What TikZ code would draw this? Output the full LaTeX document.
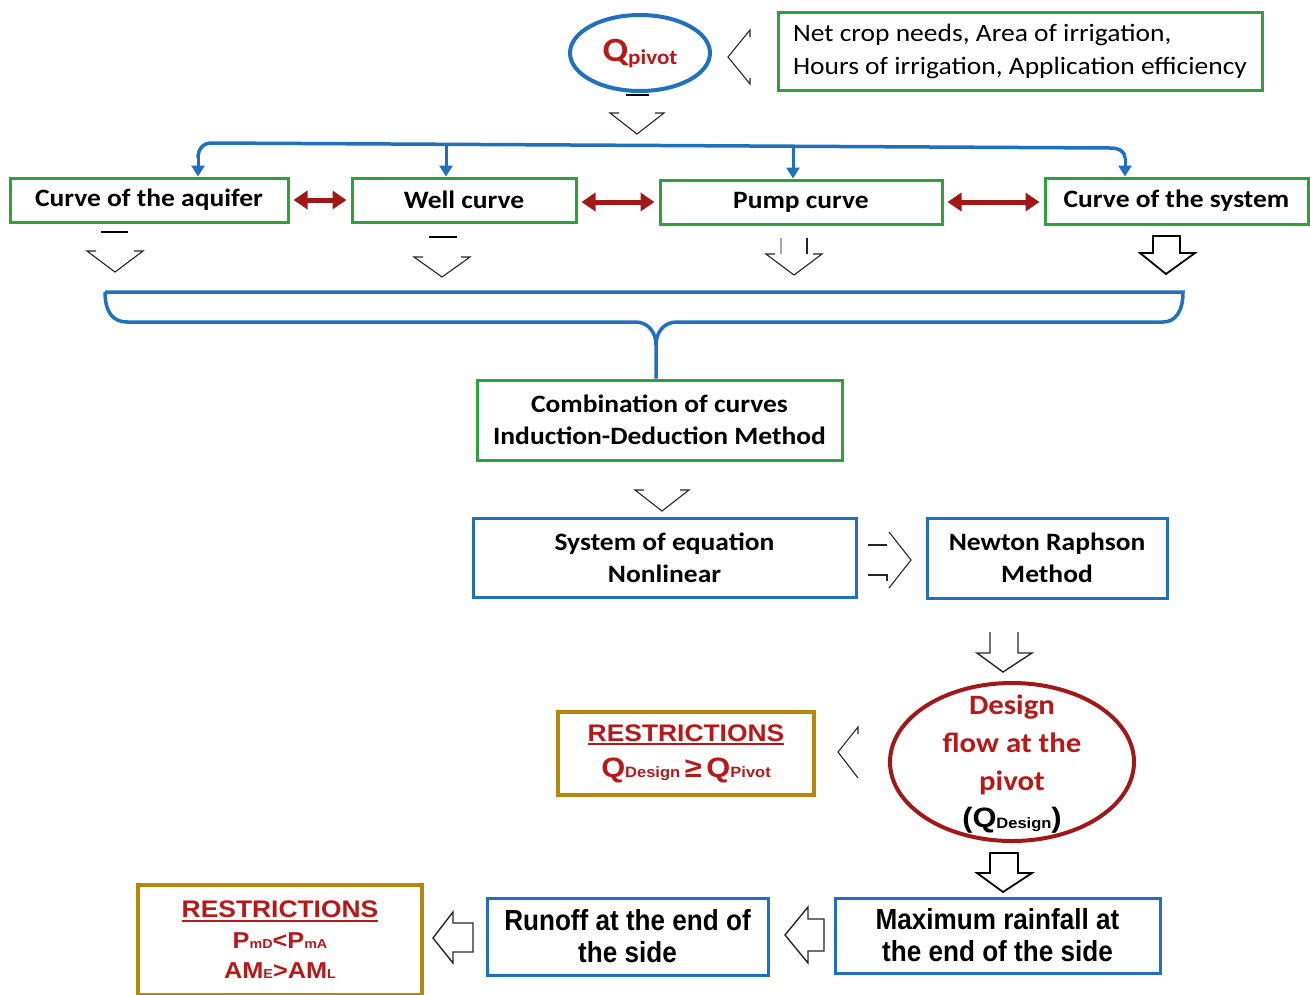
\documentclass[tikz,border=0pt]{standalone}
\usepackage{fontspec}
\setmainfont{Carlito}
\newfontfamily\cbw[FakeStretch=1.1]{Carlito}
\newfontfamily\arialf{Liberation Sans}
\newfontfamily\arialn[FakeStretch=0.9]{Liberation Sans}
\newfontfamily\arialw[FakeStretch=1.1]{Liberation Sans}
\usetikzlibrary{arrows.meta,shapes.geometric}
\definecolor{cblue}{HTML}{1F70C1}
\definecolor{cgreen}{HTML}{30A038}
\definecolor{cred}{HTML}{B81818}
\definecolor{dred}{HTML}{A01818}
\definecolor{cbrown}{HTML}{B8860B}
\newcommand\fsz[1]{\fontsize{#1}{#1}\selectfont}
\newcommand\fsk[1]{\fontsize{#1}{\the\baselineskip}\selectfont}
\newcommand\ulthick[1]{\leavevmode\vtop{\hbox{#1}\kern1.5pt\hrule height 2.5pt}}
\newcommand\mydhead[4]{\draw[thinl] ({#1-#3+9},#2) -- ({#1-#3},#2) -- (#1,{#2+#4}) -- ({#1+#3},#2) -- ({#1+#3-9},#2);}
\tikzset{
  gbox/.style={draw=cgreen, line width=3pt, align=center, inner sep=0pt,
    font=\cbw\bfseries\fontsize{25}{32}\selectfont},
  bbox/.style={draw=cblue, line width=3pt, align=center, inner sep=0pt,
    font=\cbw\bfseries\fontsize{25}{32}\selectfont},
  abox/.style={draw=cblue, line width=3pt, align=center, inner sep=0pt,
    font=\arialn\bfseries\fontsize{29}{32}\selectfont},
  rbox/.style={draw=cbrown, line width=4pt, align=center, inner sep=0pt,
    text=cred},
  bline/.style={draw=cblue, line width=3.5pt},
  barrow/.style={draw=cblue, line width=3pt, -{Triangle[length=11pt,width=13pt]}},
  rarrow/.style={draw=dred, line width=5pt,
    {Triangle[length=14pt,width=18pt]}-{Triangle[length=14pt,width=18pt]},
    shorten <=4pt, shorten >=4pt},
  thinl/.style={draw=black!85, line width=1.1pt},
  barl/.style={draw=black, line width=2.8pt},
}
\begin{document}
\begin{tikzpicture}[x=1pt,y=-1pt]
\useasboundingbox (0,0) rectangle (1310,994);

% top
\node[draw=cblue, line width=4pt, ellipse, minimum width=140pt, minimum height=76pt, inner sep=0pt,
  text=cred, font=\cbw\bfseries] (qp) at (640,53) {\fsz{34}Q{\fsz{21}\raisebox{-3pt}{pivot}}};
\node[draw=cgreen, line width=3pt, align=left, inner sep=0pt, minimum width=484pt, minimum height=78pt,
  font=\cbw\fontsize{25}{33}\selectfont] (inp) at (1020,51)
  {Net crop needs, Area of irrigation,\\Hours of irrigation, Application efficiency};
\draw[thinl] (750,37) -- (750,30) -- (728,57) -- (750,84) -- (750,78);

\draw[barl] (626,95) -- (649,95);
\mydhead{637}{113}{27}{21}

% row of curves
\node[gbox, minimum width=278pt, minimum height=44pt] (aq) at (149,200) {Curve of the aquifer};
\node[gbox, minimum width=224pt, minimum height=44pt] (well) at (464,200) {Well curve};
\node[gbox, minimum width=282pt, minimum height=44pt] (pump) at (801,202) {Pump curve};
\node[gbox, minimum width=263pt, minimum height=46pt] (sys) at (1176.5,201) {Curve of the system};

\coordinate (j1) at (198,158);
\coordinate (j2) at (446,144.3);
\coordinate (j3) at (793,146.2);
\coordinate (j4) at (1125,158);
\draw[bline] (j1) .. controls (198,150) and (202,143) .. (212,143) -- (1110,148)
  .. controls (1120,148) and (1125,152) .. (j4);
\draw[barrow] (j1) -- (j1 |- aq.north);
\draw[barrow] (j2) -- (j2 |- well.north);
\draw[barrow] (j3) -- (j3 |- pump.north);
\draw[barrow] (j4) -- (j4 |- sys.north);

\draw[rarrow] (aq.east) -- (well.west);
\draw[rarrow] (well.east |- pump.west) -- (pump.west);
\draw[rarrow] (pump.east) -- (sys.west |- pump.east);

% partial arrows below the curves
\draw[barl] (101,232) -- (128,232);
\mydhead{115}{251}{28}{21}
\draw[barl] (429,237) -- (457,237);
\mydhead{442}{257}{28}{20}
\draw[draw=black!35, line width=1.1pt] (781,238) -- (781,254);
\draw[thinl, line width=1.6pt] (807,238) -- (807,254);
\mydhead{794}{254}{28}{21}
\draw[draw=black, line width=1.8pt, line join=miter] (1153,236) -- (1180,236) -- (1180,253) -- (1195,253)
  -- (1166,274) -- (1140,253) -- (1153,253) -- cycle;

% brace
\node[gbox, minimum width=365pt, minimum height=80pt] (comb) at (659.5,420)
  {Combination of curves\\Induction-Deduction Method};
\coordinate (bm) at (656,345);
\draw[bline] (105,292) -- (1183,292) .. controls (1183,312) and (1175,322) .. (1163,322)
  -- (677,322) .. controls (664,322) and (656,332) .. (bm) -- (bm |- comb.north);
\draw[bline] (105,292) .. controls (105,312) and (113,322) .. (127,322)
  -- (635,322) .. controls (648,322) and (656,332) .. (bm);

\mydhead{662}{490}{27}{21}

% system / newton
\node[bbox, minimum width=383pt, minimum height=79pt] (soe) at (664.5,557.5)
  {System of equation\\Nonlinear};
\node[bbox, minimum width=240pt, minimum height=80pt] (nr) at (1047,558)
  {Newton Raphson\\Method};
\draw[thinl] (868,545) -- (887,545);
\draw[thinl] (889,532) -- (911,560) -- (889,588);
\draw[thinl] (868,575) -- (887,575) -- (887,581);

\draw[thinl, line width=1.4pt] (990,632) -- (990,653) -- (977,653) -- (1003,672) -- (1032,653) -- (1018,653) -- (1018,632);

% design flow
\node[draw=dred, line width=4pt, ellipse, minimum width=244pt, minimum height=158pt, inner sep=0pt] (des) at (1012,762) {};
\node[align=center, inner sep=0pt, text=cred, font=\cbw\bfseries\fontsize{28}{38}\selectfont] (dest) at (1012,764)
  {Design\\flow at the\\pivot\\[-1pt]\textcolor{black}{\arialw\fsk{28}(Q{\fsk{15}\raisebox{-1pt}{Design}})}};
\node[rbox, minimum width=256pt, minimum height=83pt, font=\arialw\bfseries\fontsize{24}{36}\selectfont] (r1) at (686,753.5)
  {\ulthick{RESTRICTIONS}\\\fsk{28}Q{\fsk{15}Design}\,≥\,Q{\fsk{15}Pivot}};
\draw[thinl] (858,734) -- (858,727) -- (838,752) -- (858,778);

\draw[draw=black, line width=1.8pt, line join=miter] (990,853) -- (1018,853) -- (1018,873) -- (1032,873)
  -- (1003,892) -- (977,873) -- (990,873) -- cycle;

% bottom row
\node[abox, minimum width=325pt, minimum height=75pt] (max) at (997.5,935.5)
  {Maximum rainfall at\\the end of the side};
\node[abox, minimum width=281pt, minimum height=77pt] (run) at (627.5,936.5)
  {Runoff at the end of\\the side};
\node[rbox, minimum width=284pt, minimum height=110pt, font=\arialw\bfseries\fontsize{24}{30}\selectfont] (r2) at (280,940)
  {\ulthick{RESTRICTIONS}\\[1pt]\fsk{23}P{\fsk{13}mD}<P{\fsk{13}mA}\\\fsk{23}AM{\fsk{13}E}>AM{\fsk{13}L}};
\draw[thinl, line width=1.4pt] (824,919) -- (808,919) -- (808,907) -- (785,935) -- (808,963) -- (808,951) -- (824,951) -- cycle;
\draw[thinl, line width=1.4pt] (473,923) -- (453,923) -- (453,912) -- (433,938) -- (453,963) -- (453,952) -- (473,952) -- cycle;
\end{tikzpicture}
\end{document}
